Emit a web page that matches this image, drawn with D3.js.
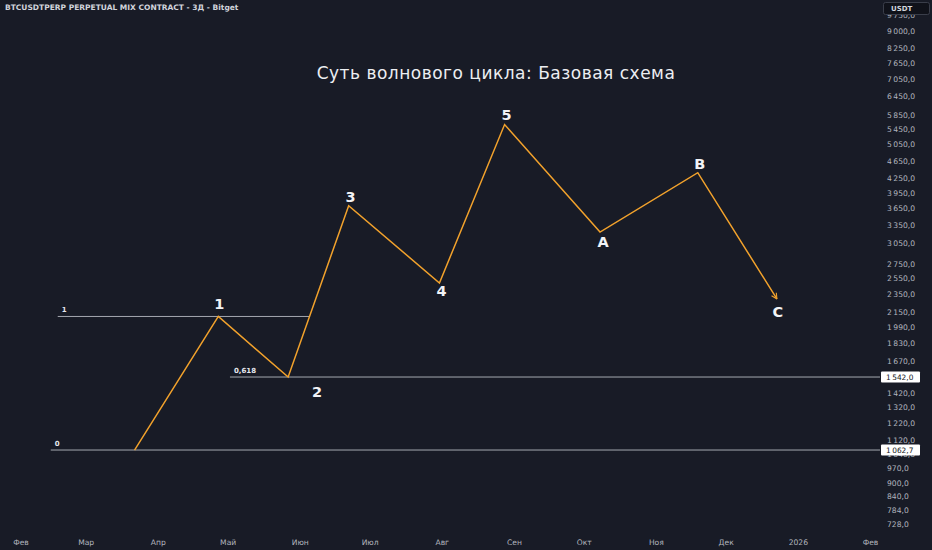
<!DOCTYPE html>
<html>
<head>
<meta charset="utf-8">
<script src="https://cdn.jsdelivr.net/npm/d3@7"></script>
<style>
  html, body { margin: 0; padding: 0; background: #181b26; }
  svg { display: block; font-family: 'DejaVu Sans', sans-serif; }
</style>
</head>
<body>
<div id="chart"></div>
<script>
// wave points
const waveLabels = ['', '1', '2', '3', '4', '5', 'A', 'B', 'C']
const waveDates = ['2025-03-22', '2025-04-27', '2025-05-27', '2025-06-22', '2025-07-31', '2025-08-28', '2025-10-08', '2025-11-19', '2025-12-23']
const wavePrices = [1062.7, 2100, 1542, 3695, 2491, 5587, 3229, 4372, 2296]

// fib levels
const levelLabels = ['1', '0,618', '0']
const levelPrices = [2100, 1542, 1062.7]
const levelFrom = ['2025-02-17', '2025-05-02', '2025-02-14']
const levelTo = ['2025-06-05', null, null]

// axis ticks
const priceTicks = [9750, 9000, 8250, 7650, 7050, 6450, 5850, 5450, 5050, 4650, 4250, 3950, 3650, 3350, 3050, 2750, 2550, 2350, 2150, 1990, 1830, 1670, 1420, 1320, 1220, 1120, 1040, 970, 900, 840, 784, 728]
const markedPrices = [1542, 1062.7]
const monthDates = ['2025-02-01', '2025-03-01', '2025-04-01', '2025-05-01', '2025-06-01', '2025-07-01', '2025-08-01', '2025-09-01', '2025-10-01', '2025-11-01', '2025-12-01', '2026-01-01', '2026-02-01']
const monthLabels = ['Фев', 'Мар', 'Апр', 'Май', 'Июн', 'Июл', 'Авг', 'Сен', 'Окт', 'Ноя', 'Дек', '2026', 'Фев']

const title = 'Суть волнового цикла: Базовая схема'
const header = 'BTCUSDTPERP PERPETUAL MIX CONTRACT - 3Д - Bitget'

const w = 932
const h = 550
const plotW = 880
const plotH = 535

const parse = d3.utcParse('%Y-%m-%d')

const xScale = d3.scaleUtc()
  .domain([parse('2025-02-01'), parse('2026-02-01')])
  .range([20.5, 870])

const yScale = d3.scaleLog()
  .domain([689, 10546])
  .range([plotH, 0])

const locale = d3.formatLocale({ decimal: ',', thousands: '\u2009', grouping: [3], currency: ['', ''] })
const fmt = locale.format(',.1f')

const svg = d3.select('#chart')
  .append('svg')
  .attr('width', w)
  .attr('height', h)

svg.append('rect')
  .attr('width', w)
  .attr('height', h)
  .attr('fill', '#181b26')

svg.append('defs')
  .append('marker')
  .attr('id', 'arrow')
  .attr('viewBox', '0 0 10 10')
  .attr('refX', 9)
  .attr('refY', 5)
  .attr('markerWidth', 7)
  .attr('markerHeight', 7)
  .attr('markerUnits', 'userSpaceOnUse')
  .attr('orient', 'auto')
  .append('path')
  .attr('d', 'M1,1 L9,5 L1,9')
  .attr('fill', 'none')
  .attr('stroke', '#f2a22c')
  .attr('stroke-width', 1.6)

// header + title
svg.append('text')
  .attr('x', 5)
  .attr('y', 10)
  .attr('fill', '#d1d4dc')
  .attr('font-size', 7.5)
  .attr('font-weight', 600)
  .text(header)

svg.append('text')
  .attr('x', 496)
  .attr('y', 79)
  .attr('text-anchor', 'middle')
  .attr('fill', '#eceef2')
  .attr('font-size', 17)
  .attr('letter-spacing', 0.5)
  .text(title)

// fib level lines
const levels = levelPrices.map((p, i) => ({ price: p, label: levelLabels[i], from: levelFrom[i], to: levelTo[i] }))

svg.selectAll('line.level')
  .data(levels)
  .enter()
  .append('line')
  .attr('class', 'level')
  .attr('x1', d => xScale(parse(d.from)))
  .attr('x2', d => d.to ? xScale(parse(d.to)) : plotW)
  .attr('y1', d => yScale(d.price))
  .attr('y2', d => yScale(d.price))
  .attr('stroke', '#a5a8b0')
  .attr('stroke-width', 1)

svg.selectAll('text.level')
  .data(levels)
  .enter()
  .append('text')
  .attr('class', 'level')
  .attr('x', d => xScale(parse(d.from)) + 4)
  .attr('y', d => yScale(d.price) - 4)
  .attr('fill', '#e6e8ee')
  .attr('font-size', 7)
  .attr('font-weight', 'bold')
  .text(d => d.label)

// wave line
const pts = wavePrices.map((p, i) => ({ date: parse(waveDates[i]), price: p, label: waveLabels[i] }))

const line = d3.line()
  .x(d => xScale(d.date))
  .y(d => yScale(d.price))

svg.append('path')
  .datum(pts)
  .attr('d', line)
  .attr('fill', 'none')
  .attr('stroke', '#f2a22c')
  .attr('stroke-width', 1.5)
  .attr('stroke-linejoin', 'miter')
  .attr('marker-end', 'url(#arrow)')

// label offsets from the turning point
const offs = { '1': [1, -13], '2': [29, 15], '3': [2, -9], '4': [2, 8], '5': [2, -10], 'A': [3, 10], 'B': [2, -9], 'C': [1, 13] }

svg.selectAll('text.wave')
  .data(pts.filter(d => d.label !== ''))
  .enter()
  .append('text')
  .attr('class', 'wave')
  .attr('x', d => xScale(d.date) + offs[d.label][0])
  .attr('y', d => yScale(d.price) + offs[d.label][1])
  .attr('dy', '0.36em')
  .attr('text-anchor', 'middle')
  .attr('fill', '#f2f3f6')
  .attr('font-size', 14.5)
  .attr('font-weight', 'bold')
  .text(d => d.label)

// price axis
const yAxis = d3.axisRight(yScale)
  .tickValues(priceTicks)
  .tickFormat(fmt)
  .tickSize(0)
  .tickPadding(7)

const gy = svg.append('g')
  .attr('transform', `translate(${plotW}, 0)`)
  .call(yAxis)

gy.select('.domain').remove()
gy.selectAll('text')
  .attr('fill', '#b2b5be')
  .attr('font-size', 7.6)
  .attr('font-family', 'DejaVu Sans, sans-serif')

// marked prices
const marks = svg.selectAll('g.mark')
  .data(markedPrices)
  .enter()
  .append('g')
  .attr('class', 'mark')
  .attr('transform', d => `translate(${plotW + 1}, ${yScale(d)})`)

marks.append('rect')
  .attr('x', 0)
  .attr('y', -5.5)
  .attr('width', 39)
  .attr('height', 11)
  .attr('rx', 1)
  .attr('fill', '#ffffff')

marks.append('text')
  .attr('x', 5)
  .attr('dy', '0.35em')
  .attr('fill', '#131722')
  .attr('font-size', 7.4)
  .text(d => fmt(d))

// USDT box
svg.append('rect')
  .attr('x', 883.5)
  .attr('y', 2.5)
  .attr('width', 46)
  .attr('height', 12)
  .attr('rx', 2)
  .attr('fill', '#10121a')
  .attr('stroke', '#3a3e4a')

svg.append('text')
  .attr('x', 891)
  .attr('y', 8.5)
  .attr('dy', '0.35em')
  .attr('fill', '#d1d4dc')
  .attr('font-size', 7)
  .attr('font-weight', 'bold')
  .text('USDT')

// time axis
const xAxis = d3.axisBottom(xScale)
  .tickValues(monthDates.map(parse))
  .tickFormat((d, i) => monthLabels[i])
  .tickSize(0)
  .tickPadding(5)

const gx = svg.append('g')
  .attr('transform', `translate(0, ${plotH})`)
  .call(xAxis)

gx.select('.domain').remove()
gx.selectAll('text')
  .attr('fill', '#b2b5be')
  .attr('font-size', 7.6)
  .attr('font-family', 'DejaVu Sans, sans-serif')
</script>
</body>
</html>
